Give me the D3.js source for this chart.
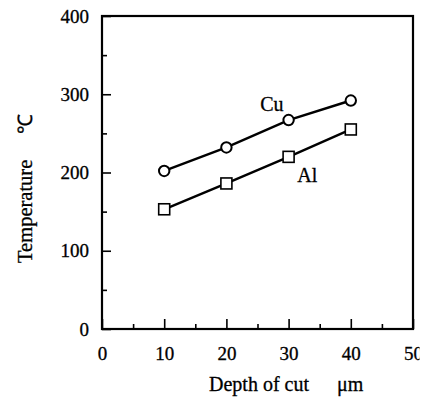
<!DOCTYPE html>
<html><head><meta charset="utf-8">
<script src="https://cdn.jsdelivr.net/npm/d3@7"></script>
<style>body{margin:0;background:#fff}svg{display:block}text{stroke:#000;stroke-width:0.3px}</style>
</head><body>
<svg id="c" width="437" height="398"></svg>
<script>
const depth = [10, 20, 30, 40];
const cuTemp = [202, 232, 267, 292];
const alTemp = [153, 186, 220, 255];
const xTicks = [0, 10, 20, 30, 40, 50];
const yTicks = [0, 100, 200, 300, 400];

const svg = d3.select('#c');
const L = 102, R = 413, T = 16, B = 329;
const x = d3.scaleLinear().domain([0, 50]).range([L, R]);
const y = d3.scaleLinear().domain([0, 400]).range([B, T]);
const font = 'Liberation Serif, Times New Roman, serif';

svg.append('defs').append('clipPath').attr('id', 'cl')
  .append('rect').attr('x', 0).attr('y', 0).attr('width', 419.5).attr('height', 398);

// frame
svg.append('rect').attr('x', L).attr('y', T).attr('width', R - L).attr('height', B - T)
  .attr('fill', 'none').attr('stroke', '#000').attr('stroke-width', 2.2);

// x axis ticks (inward)
const xWrap = svg.append('g').attr('clip-path', 'url(#cl)');
const xa = xWrap.append('g').attr('transform', `translate(0,${B})`)
  .call(d3.axisBottom(x).tickValues(xTicks).tickSize(-10).tickFormat(d3.format('d')));
xa.select('.domain').remove();
xa.selectAll('line').attr('stroke-width', 1.6);
xa.selectAll('text').attr('font-family', font).attr('font-size', 19).attr('fill', '#000')
  .attr('y', 31).attr('dy', 0);
const xm = svg.append('g').attr('transform', `translate(0,${B})`)
  .call(d3.axisBottom(x).tickValues([5, 15, 25, 35, 45]).tickSize(-5).tickFormat(''));
xm.select('.domain').remove();
xm.selectAll('line').attr('stroke-width', 1.6);

// y axis ticks (inward)
const ya = svg.append('g').attr('transform', `translate(${L},0)`)
  .call(d3.axisLeft(y).tickValues(yTicks).tickSize(-9).tickFormat(d3.format('d')).tickPadding(13));
ya.select('.domain').remove();
ya.selectAll('line').attr('stroke-width', 1.6);
ya.selectAll('text').attr('font-family', font).attr('font-size', 19).attr('fill', '#000');
const ym = svg.append('g').attr('transform', `translate(${L},0)`)
  .call(d3.axisLeft(y).tickValues([50, 150, 250, 350]).tickSize(-5).tickFormat(''));
ym.select('.domain').remove();
ym.selectAll('line').attr('stroke-width', 1.6);

// lines
const line = d3.line().x((d, i) => x(depth[i])).y(d => y(d));
[cuTemp, alTemp].forEach(s => {
  svg.append('path').attr('d', line(s)).attr('fill', 'none').attr('stroke', '#000').attr('stroke-width', 2.4);
});
svg.selectAll('.cu').data(cuTemp).enter().append('circle')
  .attr('cx', (d, i) => x(depth[i])).attr('cy', d => y(d)).attr('r', 5.2)
  .attr('fill', '#fff').attr('stroke', '#000').attr('stroke-width', 2);
svg.selectAll('.al').data(alTemp).enter().append('rect')
  .attr('x', (d, i) => x(depth[i]) - 5.5).attr('y', d => y(d) - 5.5).attr('width', 11).attr('height', 11)
  .attr('fill', '#fff').attr('stroke', '#000').attr('stroke-width', 1.6);

// series labels
svg.append('text').attr('x', x(27.3)).attr('y', y(278)).attr('text-anchor', 'middle')
  .attr('font-family', font).attr('font-size', 20).text('Cu');
svg.append('text').attr('x', x(33)).attr('y', y(188)).attr('text-anchor', 'middle')
  .attr('font-family', font).attr('font-size', 20).text('Al');

// axis titles
svg.append('text').attr('x', 209).attr('y', 391)
  .attr('font-family', font).attr('font-size', 20)
  .text('Depth of cut');
svg.append('text').attr('x', 337).attr('y', 391)
  .attr('font-family', font).attr('font-size', 20)
  .text('μm');
svg.append('text').attr('transform', 'translate(32,263) rotate(-90)').attr('text-anchor', 'start')
  .attr('font-family', font).attr('font-size', 20.5)
  .text('Temperature');
svg.append('text').attr('transform', 'translate(32,134) rotate(-90)').attr('text-anchor', 'start')
  .attr('font-family', font).attr('font-size', 20)
  .text('℃');
</script>
</body></html>
